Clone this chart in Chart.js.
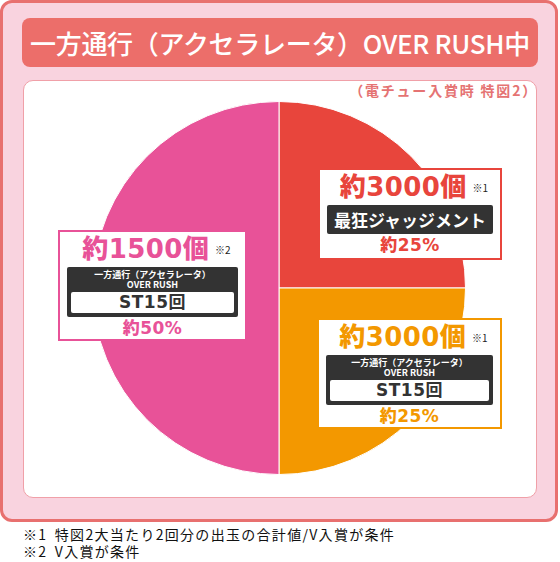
<!DOCTYPE html>
<html>
<head>
<meta charset="utf-8">
<script src="https://cdn.jsdelivr.net/npm/chart.js@4"></script>
<style>
  body { margin: 0; width: 560px; height: 562px; background: #fff; font-family: "Noto Sans CJK JP", sans-serif; position: relative; overflow: hidden; }
  #frame { position: absolute; left: 0; top: 0; width: 552px; height: 516px; background: #f9d3df; border: 3px solid #e8706f; border-radius: 12px; }
  #title { position: absolute; left: 22px; top: 18px; width: 516px; height: 49px; background: #ec6e6a; border-radius: 8px; color: #fff; font-size: 26px; font-weight: 500; line-height: 49px; text-align: center; letter-spacing: -0.3px; }
  #panel { position: absolute; left: 23px; top: 80px; width: 512px; height: 416px; background: #fff; border: 1px solid #f0a0a8; border-radius: 10px; }
  #sub { position: absolute; right: 22px; top: 80px; color: #e57373; font-size: 14px; font-weight: 700; letter-spacing: 1.8px; }
  #chartBox { position: absolute; left: 92px; top: 101px; width: 374px; height: 374px; }
  .lbl { position: absolute; background: #fff; border: 2px solid; box-sizing: border-box; text-align: center; }
  .cnt { font-family: "DejaVu Sans", "Noto Sans CJK JP", sans-serif; font-size: 26px; font-weight: 900; line-height: 30px; margin-top: 2px; letter-spacing: 0.4px; padding-left: 8px; }
  .cnt span { font-family: "Noto Sans CJK JP", sans-serif; font-size: 10px; color: #222; font-weight: 400; margin-left: 6px; vertical-align: 4px; letter-spacing: 0; }
  .dark { margin: 2px 7px 0; background: #333; border-radius: 2px; color: #fff; font-weight: 700; }
  .dark.one { font-size: 17px; line-height: 29px; }
  .dark .small { font-size: 9px; line-height: 10px; padding-top: 3px; }
  .dark .st { margin: 2px 4px 0; background: #fff; color: #333; border-radius: 2px; font-family: "DejaVu Sans", "Noto Sans CJK JP", sans-serif; font-size: 17px; line-height: 21px; font-weight: 700; letter-spacing: 0.5px; }
  .dark.two { padding-bottom: 4px; }
  .pct { font-family: "DejaVu Sans", "Noto Sans CJK JP", sans-serif; font-size: 17px; font-weight: 900; line-height: 22px; letter-spacing: 0.5px; }
  #notes { position: absolute; left: 23px; top: 526px; font-size: 14px; line-height: 17px; color: #111; letter-spacing: 1.3px; word-spacing: 3px; }
</style>
</head>
<body>
<div id="frame"></div>
<div id="title">一方通行（アクセラレータ）OVER RUSH中</div>
<div id="panel"></div>
<div id="sub">（電チュー入賞時 特図2）</div>
<div id="chartBox"><canvas id="pie" width="374" height="374"></canvas></div>
<div id="notes">※1 特図2大当たり2回分の出玉の合計値/V入賞が条件<br>※2 V入賞が条件</div>
<script>
// slice data (clockwise from 12 o'clock)
const modes = ['最狂ジャッジメント', '一方通行（アクセラレータ）OVER RUSH ST15回', '一方通行（アクセラレータ）OVER RUSH ST15回'];
const shares = [25, 25, 50];
const counts = ['約3000個', '約3000個', '約1500個'];
const notes = ['※1', '※1', '※2'];
const percents = ['約25%', '約25%', '約50%'];
const sliceColors = ['#e8453c', '#f39800', '#e85298'];

// label box placement
const boxPos = [
  { left: 318, top: 168, width: 184, height: 92 },
  { left: 317, top: 318, width: 185, height: 111 },
  { left: 58, top: 230, width: 189, height: 111 }
];

new Chart(document.getElementById('pie').getContext('2d'), {
  type: 'pie',
  data: {
    labels: modes,
    datasets: [{
      data: shares,
      backgroundColor: sliceColors,
      borderColor: '#fff',
      borderWidth: 1
    }]
  },
  options: {
    responsive: false,
    animation: false,
    layout: { padding: 0 },
    plugins: {
      legend: { display: false },
      tooltip: { enabled: false }
    }
  }
});

// label boxes
modes.forEach((mode, i) => {
  const box = document.createElement('div');
  box.className = 'lbl';
  const p = boxPos[i];
  Object.assign(box.style, {
    left: p.left + 'px', top: p.top + 'px', width: p.width + 'px', height: p.height + 'px',
    borderColor: sliceColors[i], color: sliceColors[i]
  });
  let mid;
  if (i === 0) {
    mid = `<div class="dark one">${mode}</div>`;
  } else {
    mid = `<div class="dark two"><div class="small">一方通行（アクセラレータ）<br>OVER RUSH</div><div class="st">ST15回</div></div>`;
  }
  box.innerHTML = `<div class="cnt">${counts[i]}<span>${notes[i]}</span></div>${mid}<div class="pct">${percents[i]}</div>`;
  document.body.appendChild(box);
});
</script>
</body>
</html>
